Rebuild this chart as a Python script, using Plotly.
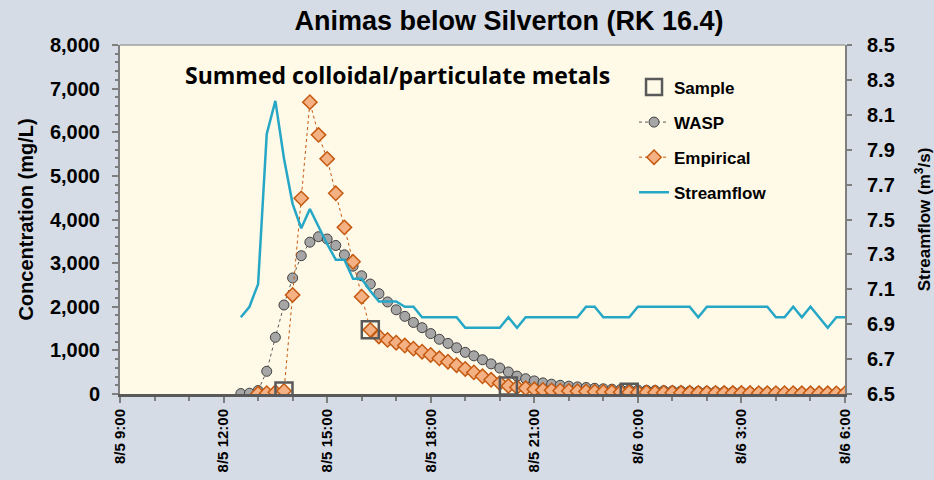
import pandas as pd
import plotly.graph_objects as go

# 15-minute model output, 8/5 12:30 -> 8/6 6:00
times = pd.date_range("2015-08-05 12:30", "2015-08-06 06:00", freq="15min")

wasp = [10, 18, 80, 520, 1300, 2040, 2660, 3170, 3480, 3605,
        3553, 3405, 3190, 2930, 2710, 2520, 2300, 2110, 1930, 1780,
        1640, 1520, 1385, 1255, 1160, 1060, 955, 875, 785, 690,
        595, 505, 410, 350, 300, 255, 225, 200, 180, 163,
        148, 131, 119, 110, 103, 96,
        90, 85, 80, 75, 70, 66, 62, 58, 55, 52,
        49, 46, 44, 42, 40, 38, 36, 34, 33, 32,
        31, 30, 29, 28, 27]

empirical = [None, None, 10, 20, 40, 70, 2270, 4485, 6690, 5940,
             5390, 4600, 3820, 3030, 2230, 1470, 1320, 1240, 1175, 1110,
             1040, 970, 895, 818, 741, 660, 575, 495, 405, 325,
             250, 185, 155, 130, 108, 92, 84, 76, 70, 64,
             58, 53, 48, 45, 42, 40, 37, 35, 33, 31,
             29, 28, 27, 26, 25, 24, 23, 22, 21, 21,
             20, 19, 19, 18, 18, 17, 17, 16, 16, 15, 15]

streamflow = [6.94, 7.00, 7.13, 7.99, 8.18, 7.85, 7.59, 7.45, 7.56, 7.46,
              7.36, 7.27, 7.27, 7.16, 7.16, 7.09, 7.03, 7.03, 7.03, 7.00,
              7.00, 6.94, 6.94, 6.94, 6.94, 6.94, 6.88, 6.88, 6.88, 6.88,
              6.88, 6.94, 6.88, 6.94, 6.94, 6.94, 6.94, 6.94, 6.94, 6.94,
              7.00, 7.00, 6.94, 6.94, 6.94, 6.94, 7.00, 7.00, 7.00, 7.00,
              7.00, 7.00, 7.00, 6.94, 7.00, 7.00, 7.00, 7.00, 7.00, 7.00,
              7.00, 7.00, 6.94, 6.94, 7.00, 6.94, 7.00, 6.94, 6.88, 6.94, 6.94]

sample_times = ["2015-08-05 13:45", "2015-08-05 16:15", "2015-08-05 20:15", "2015-08-05 23:45"]
sample_conc = [70, 1470, 185, 40]

FONT = "Liberation Sans, Arial, sans-serif"
AXIS_GRAY = "#7f7f7f"
BG = "#d6dce5"

fig = go.Figure()

fig.add_trace(go.Scatter(
    x=times, y=wasp, name="WASP", mode="lines+markers",
    legendrank=2, legendgroup="b",
    line=dict(color="#595959", width=1, dash="dot"),
    marker=dict(symbol="circle", size=10, color="#a6a6a6",
                line=dict(color="#404040", width=1)),
))

fig.add_trace(go.Scatter(
    x=times, y=empirical, name="Empirical", mode="lines+markers",
    legendrank=3, legendgroup="c",
    line=dict(color="#c55a11", width=1, dash="dot"),
    marker=dict(symbol="diamond", size=11, color="#f4b183",
                line=dict(color="#c55a11", width=1.5)),
))

fig.add_trace(go.Scatter(
    x=sample_times, y=sample_conc, name="Sample", mode="markers",
    legendrank=1, legendgroup="a",
    marker=dict(symbol="square-open", size=17, color="#595959",
                line=dict(width=2.5)),
))

fig.add_trace(go.Scatter(
    x=times, y=streamflow, name="Streamflow", mode="lines", yaxis="y2",
    legendrank=4, legendgroup="d",
    line=dict(color="#27a7c6", width=2.5),
))

fig.update_layout(
    width=934, height=480,
    margin=dict(l=120, r=89, t=45, b=86, autoexpand=False),
    paper_bgcolor=BG,
    plot_bgcolor="#fff9e8",
    font=dict(family=FONT, color="black"),
    title=dict(text="Animas below Silverton (RK 16.4)", x=0.545, xanchor="center",
               y=0.958, yanchor="middle",
               font=dict(size=27, weight="bold", family=FONT)),
    showlegend=True,
    legend=dict(x=0.709, y=0.93, xanchor="left", yanchor="top",
                bgcolor="rgba(0,0,0,0)", traceorder="grouped", tracegroupgap=10,
                font=dict(size=17, weight="bold", family=FONT)),
    xaxis=dict(
        type="date", automargin=False,
        range=["2015-08-05 09:00", "2015-08-06 06:00"],
        dtick=3 * 3600000, tick0="2015-08-05 09:00",
        tickformat="%-m/%-d %-H:%M", tickangle=-90,
        tickfont=dict(size=15, weight="bold"),
        ticks="outside", ticklen=6, tickcolor=AXIS_GRAY, tickwidth=1.5,
        minor=dict(dtick=3600000, ticks="outside", ticklen=4, tickcolor=AXIS_GRAY),
        showgrid=False, zeroline=False,
        showline=True, linecolor="#595959", linewidth=3,
    ),
    yaxis=dict(
        automargin=False,
        range=[0, 8000], dtick=1000, tickformat=",d",
        tickfont=dict(size=20, weight="bold"), ticklabelstandoff=8,
        title=dict(text="Concentration (mg/L)", font=dict(size=20, weight="bold"), standoff=11),
        ticks="outside", ticklen=6, tickcolor=AXIS_GRAY, tickwidth=1.5,
        minor=dict(dtick=200, ticks="outside", ticklen=3, tickcolor=AXIS_GRAY),
        showgrid=False, zeroline=False,
        showline=True, linecolor=AXIS_GRAY, linewidth=2,
    ),
    yaxis2=dict(
        automargin=False,
        range=[6.5, 8.5], tick0=6.5, dtick=0.2, tickformat=".1f",
        overlaying="y", side="right",
        tickfont=dict(size=20, weight="bold"), ticklabelstandoff=11,
        title=dict(text="Streamflow (m<sup>3</sup>/s)", font=dict(size=17, weight="bold"), standoff=24),
        ticks="outside", ticklen=5, tickcolor=AXIS_GRAY, tickwidth=1.5,
        showgrid=False, zeroline=False,
        showline=True, linecolor=AXIS_GRAY, linewidth=2,
    ),
)

# top border of the plot area
fig.add_shape(type="line", xref="paper", yref="paper", x0=0, x1=1, y0=1, y1=1,
              line=dict(color="#a0a0a0", width=1.5))

fig.add_annotation(
    text="Summed colloidal/particulate metals",
    xref="paper", yref="paper", x=0.087, y=0.915, xanchor="left", yanchor="middle",
    showarrow=False, font=dict(family="Open Sans, sans-serif", size=23, weight="bold"),
)

# drop the default page margin so the figure sits at the window corner
fig.write_html("out.html", config={"displayModeBar": False},
               post_script=f"document.body.style.margin='0';document.body.style.background='{BG}';")
